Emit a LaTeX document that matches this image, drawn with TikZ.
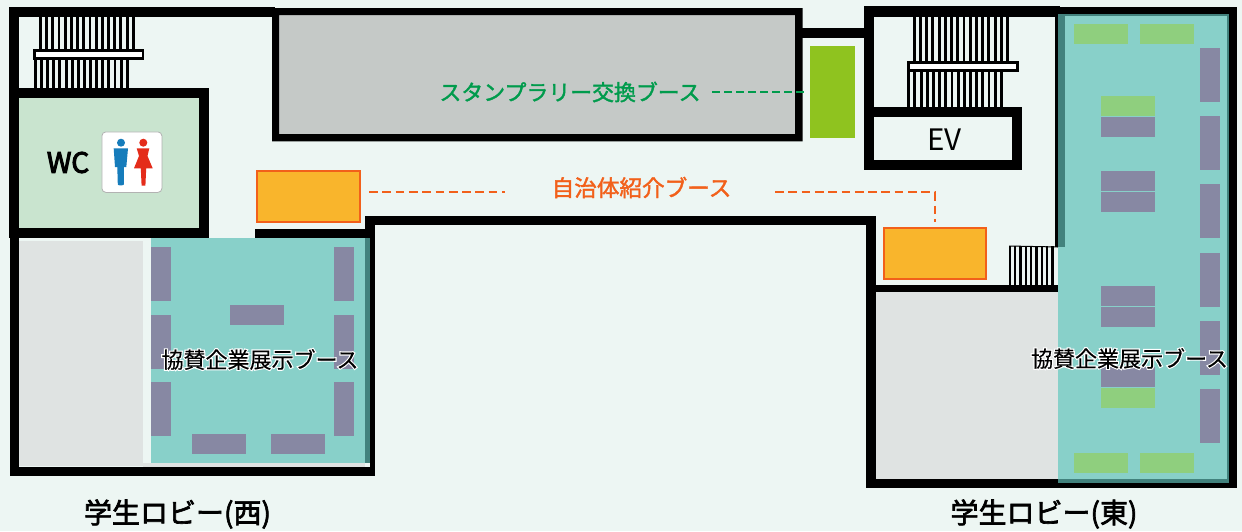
\documentclass[tikz,border=0pt]{standalone}
\usepackage{fontspec}
\setmainfont{Noto Sans CJK JP}
\newfontfamily\jp{Noto Sans CJK JP}
\newfontfamily\jptxt[FakeBold=0.3]{Noto Sans CJK JP}
\newfontfamily\jpmed[FakeBold=1.7]{Noto Sans CJK JP}
\newfontfamily\jpbot[FakeBold=2.4]{Noto Sans CJK JP}
\newfontfamily\jpwc[FakeBold=3.6]{Noto Sans CJK JP}
\newfontfamily\jphalo[FakeBold=11]{Noto Sans CJK JP}
\definecolor{bgc}{HTML}{EDF6F3}
\definecolor{wallc}{HTML}{000000}
\definecolor{tealc}{HTML}{88D0C9}
\definecolor{tealdk}{HTML}{42827D}
\definecolor{tablec}{HTML}{8788A3}
\definecolor{greenc}{HTML}{8FCF7E}
\definecolor{limec}{HTML}{8FC31F}
\definecolor{grayA}{HTML}{C5C9C7}
\definecolor{grayB}{HTML}{DFE3E2}
\definecolor{wcc}{HTML}{C9E4CF}
\definecolor{orangec}{HTML}{F9B52C}
\definecolor{orangeln}{HTML}{F2601A}
\definecolor{greenln}{HTML}{009B4C}
\definecolor{manc}{HTML}{167CBB}
\definecolor{womanc}{HTML}{E42C1A}
\tikzset{
  wall/.style={fill=wallc},
  tbl/.style={fill=tablec},
  grn/.style={fill=greenc},
  booth/.style={draw=orangeln,line width=2pt,fill=orangec,inner sep=0pt,anchor=north west},
  dashor/.style={draw=orangeln,line width=2pt,dash pattern=on 8.7pt off 4.6pt},
  dashgr/.style={draw=greenln,line width=2pt,dash pattern=on 7.5pt off 4.5pt},
  lab/.style={inner sep=0pt,anchor=center},
}
\newcommand{\halolabel}[3]{%
  \node[lab,text=white] at (#1,#2) {\fontsize{#3}{#3}\jphalo 協賛企業展示ブース};
  \node[lab,text=black] at (#1,#2) {\fontsize{#3}{#3}\jptxt 協賛企業展示ブース};
}
\newcommand{\bars}[6]{% x0, pitch, count-1, y1, y2, bar width
  \foreach \i in {0,...,#3}{\fill[wall] ({#1+\i*#2},#4) rectangle ({#1+\i*#2+#6},#5);}
}
\begin{document}
\begin{tikzpicture}[x=1pt,y=-1pt]
\useasboundingbox (0,0) rectangle (1242,531);
\fill[bgc] (0,0) rectangle (1242,531);

% fills
\fill[grayA] (279,15) rectangle (795,134);
\fill[wcc] (19,97) rectangle (199,228);
\fill[grayB] (19,241) rectangle (143,466);
\fill[grayB] (143,463) rectangle (365,466.7);
\fill[grayB] (875,292) rectangle (1058.5,479);

% west walls
\fill[wall] (9,6.5) rectangle (275,16.5);
\fill[wall] (9,6.5) rectangle (19,238);
\fill[wall] (9.5,238) rectangle (18.5,476);
\fill[wall] (9.5,466.7) rectangle (374.5,475.7);
\fill[wall] (9,87.5) rectangle (209,97.5);
\fill[wall] (199,87.5) rectangle (209,238);
\fill[wall] (9,228) rectangle (209,238);
\fill[wall] (255,229.3) rectangle (374.5,238);
\fill[wall] (365,216) rectangle (875,225);
\fill[wall] (370,225) rectangle (374.5,476);
\fill[wall] (365,225) rectangle (374.5,238);

% centre block
\fill[wall,even odd rule] (272,8) rectangle (802.5,141.3) (279,15) rectangle (795,134);
\fill[wall] (802,28.3) rectangle (864,38);

% east walls
\fill[wall] (866.3,216) rectangle (875.5,488.3);
\fill[wall] (866.3,479) rectangle (1236.5,488.3);
\fill[wall] (875,285) rectangle (1060,292.3);
\fill[wall] (863.7,6.3) rectangle (1060,16.7);
\fill[wall] (1058,7) rectangle (1236.5,16);
\fill[wall] (1229,7) rectangle (1236.5,488.3);
\fill[wall] (863.7,6.3) rectangle (874,170.3);
\fill[wall] (863.7,107.3) rectangle (1022.3,117.3);
\fill[wall] (1012,107.3) rectangle (1022.3,170.3);
\fill[wall] (863.7,160.3) rectangle (1022.3,170.3);
\fill[wall] (1055.3,14) rectangle (1059,247);

% stairs west
\bars{39}{6.19}{15}{16.5}{49.5}{2.9}
\bars{34}{6.12}{15}{59}{88}{2.9}
\fill[wall] (33,49) rectangle (144.3,59.7);
\fill[white] (35.7,51.7) rectangle (141.7,56.7);

% stairs east
\bars{912.7}{6.23}{15}{16.5}{61}{2.9}
\bars{907.3}{6.17}{15}{72}{107.5}{2.9}
\fill[wall] (907,61) rectangle (1018.7,72);
\fill[white] (909.7,64) rectangle (1016,69);

% small stair
\bars{1008.7}{5.33}{8}{246}{285}{2.2}
\draw[draw=black,line width=1pt] (1009,246) -- (1058,247);

% west exhibition
\fill[tealc] (151,238) rectangle (365,463);
\fill[tealdk] (365,238) rectangle (370,463);
\foreach \y in {247,315,382}{
  \fill[tbl] (151,\y) rectangle (171,\y+54);
  \fill[tbl] (334,\y) rectangle (354,\y+54);
}
\fill[tbl] (230,305) rectangle (284,325);
\fill[tbl] (192,434) rectangle (246,454);
\fill[tbl] (271,434) rectangle (325,454);

% east exhibition
\fill[tealdk] (1058.3,14) rectangle (1229,483.3);
\fill[tealc] (1058.3,247) rectangle (1064.7,479);
\fill[tealc] (1064.7,16) rectangle (1227,479);
\foreach \y in {48,116,184,253,321,389}{
  \fill[tbl] (1200,\y) rectangle (1220,\y+54);
}
\foreach \y in {117,171,192,286,307,367}{
  \fill[tbl] (1101,\y) rectangle (1155,\y+20);
}
\foreach \y in {96,388}{
  \fill[grn] (1101,\y) rectangle (1155,\y+20);
}
\foreach \x in {1074,1140}{
  \fill[grn] (\x,24) rectangle (\x+54,44);
  \fill[grn] (\x,453) rectangle (\x+54,473);
}

% booths
\node[fill=limec,inner sep=0pt,anchor=north west,minimum width=45pt,minimum height=92pt] (stamp) at (810,46) {};
\node[booth,minimum width=103pt,minimum height=50.7pt] (wbooth) at (255.7,170) {};
\node[booth,minimum width=102.6pt,minimum height=50.4pt] (ebooth) at (882.7,227.3) {};

% labels
\node[lab,text=greenln] (stamplab) at (570,92) {\fontsize{21.9}{22}\jpmed スタンプラリー交換ブース};
\node[lab,text=orangeln] (locallab) at (641.5,187.5) {\fontsize{22.6}{23}\jpmed 自治体紹介ブース};
\halolabel{260}{359.5}{22}
\halolabel{1129.5}{358.5}{22}
\node[lab,text=black] (wlobby) at (177.5,514) {\fontsize{28}{29}\jpbot 学生ロビー(西)};
\node[lab,text=black] (elobby) at (1044,514) {\fontsize{28}{29}\jpbot 学生ロビー(東)};
\node[lab,text=black] (ev) at (944.5,139.5) {\fontsize{29.5}{30}\jp EV};
\node[lab,text=black] (wc) at (68,162.5) {\fontsize{28}{28}\jpwc WC};

% connectors
\coordinate (g1) at (712,92);
\coordinate (g2) at (806,92);
\draw[dashgr] (g1) -- (g2);
\coordinate (o1) at (369,192);
\coordinate (o2) at (505,192);
\draw[dashor] (o1) -- (o2);
\coordinate (o3) at (775,192.3);
\coordinate (o4) at (934.7,192.3);
\coordinate (o5) at (934.7,222);
\draw[dashor] (o3) -- (o4) -- (o5);

% WC icon
\node[draw=black!30,line width=0.8pt,fill=white,rounded corners=4pt,inner sep=0pt,minimum width=60pt,minimum height=60.5pt,anchor=north west] (icon) at (101.5,131.5) {};
\fill[manc] (121,142.7) circle (4);
\fill[manc] (113.7,148.3) -- (128,148.3) -- (126.3,167) -- (124,167) -- (123.8,184.5) .. controls (123.8,185.7) and (117.8,185.7) .. (117.8,184.5) -- (117.3,167) -- (115,167) -- cycle;
\fill[womanc] (143.3,142.7) circle (4);
\fill[womanc] (136.7,148.3) -- (149.3,148.3) -- (147.5,156) -- (152.7,168.3) -- (146.2,168.3) -- (145.4,185.7) -- (141.6,185.7) -- (140.8,168.3) -- (134,168.3) -- (139,156) -- cycle;
\end{tikzpicture}
\end{document}
